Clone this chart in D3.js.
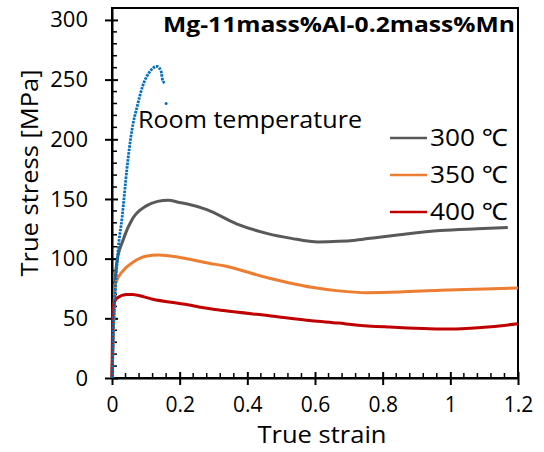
<!DOCTYPE html>
<html>
<head>
<meta charset="utf-8">
<script src="https://cdn.jsdelivr.net/npm/d3@7"></script>
<style>
  body { margin: 0; background: #fff; }
  text { font-family: "Open Sans", "Noto Sans", sans-serif; fill: #000; }
</style>
</head>
<body>
<div id="chart-area"></div>
<script>
// chart values
const strain300 = [0, 0.005, 0.01, 0.015, 0.032, 0.062, 0.10, 0.135, 0.166, 0.2, 0.22, 0.28, 0.37, 0.46, 0.53, 0.61, 0.67, 0.72, 0.79, 0.85, 0.97, 1.08, 1.17]
const stress300 = [0, 50, 85, 98, 115, 134, 144, 148, 149, 147, 146, 141, 129, 121, 117, 114, 114.5, 115.5, 118, 120, 123.5, 125, 126]

const strain350 = [0, 0.005, 0.01, 0.033, 0.062, 0.10, 0.137, 0.2, 0.29, 0.33, 0.46, 0.59, 0.67, 0.75, 0.85, 0.97, 1.1, 1.2]
const stress350 = [0, 50, 79, 90, 97, 102, 103, 101, 96, 94, 84, 76, 73, 71.5, 72, 73.5, 74.5, 75.5]

const strain400 = [0, 0.003, 0.015, 0.044, 0.06, 0.12, 0.21, 0.29, 0.33, 0.47, 0.59, 0.67, 0.72, 0.82, 0.99, 1.12, 1.2]
const stress400 = [0, 59, 67, 70, 70, 66, 62, 58, 56.5, 52, 48, 46, 44.5, 42.7, 41, 43, 45.5]

const strainRT = [0, 0.003, 0.006, 0.01, 0.018, 0.03, 0.044, 0.059, 0.074, 0.09, 0.11, 0.133, 0.145, 0.15, 0.157]
const stressRT = [0, 30, 55, 75, 107, 135, 175, 208, 227, 244, 256, 261, 257, 249, 247]
const strayRT = [[0.16, 230]]

const legendLabels = ["300 ℃", "350 ℃", "400 ℃"]
const seriesColors = ["#595959", "#ED7D31", "#C00000"]
const xTicks = [0, 0.2, 0.4, 0.6, 0.8, 1, 1.2]
const yTicks = [0, 50, 100, 150, 200, 250, 300]

const WIDTH = 544
const HEIGHT = 452
const PLOT = { LEFT: 112, RIGHT: 518, TOP: 8, BOTTOM: 378 }

const svg = d3.select("#chart-area").append("svg")
  .attr("width", WIDTH)
  .attr("height", HEIGHT)

const x = d3.scaleLinear().domain([0, 1.2]).range([PLOT.LEFT, PLOT.RIGHT])
const y = d3.scaleLinear().domain([0, 310]).range([PLOT.BOTTOM, PLOT.TOP])

// frame
svg.append("rect")
  .attr("x", PLOT.LEFT).attr("y", PLOT.TOP)
  .attr("width", PLOT.RIGHT - PLOT.LEFT).attr("height", PLOT.BOTTOM - PLOT.TOP)
  .attr("fill", "none").attr("stroke", "#000").attr("stroke-width", 2)

// minor ticks (inside)
const xMinor = d3.range(0, 31).map(i => i * 0.04).filter((d, i) => i % 5 !== 0)
svg.append("g").selectAll("line").data(xMinor).join("line")
  .attr("x1", d => x(d)).attr("x2", d => x(d))
  .attr("y1", PLOT.BOTTOM).attr("y2", PLOT.BOTTOM - 5)
  .attr("stroke", "#000").attr("stroke-width", 1.5)

const yMinor = d3.range(0, 31).map(i => i * 10).filter(d => d % 50 !== 0)
svg.append("g").selectAll("line").data(yMinor).join("line")
  .attr("x1", PLOT.LEFT).attr("x2", PLOT.LEFT + 5)
  .attr("y1", d => y(d)).attr("y2", d => y(d))
  .attr("stroke", "#000").attr("stroke-width", 1.5)

// X axis
const xAxisCall = d3.axisBottom(x).tickValues(xTicks).tickFormat(d => d).tickSizeInner(7).tickSizeOuter(0).tickPadding(12)
const xAxisGroup = svg.append("g")
  .attr("transform", `translate(0,${PLOT.BOTTOM})`)
  .call(xAxisCall)
xAxisGroup.select(".domain").attr("stroke-width", 2)
xAxisGroup.selectAll(".tick line").attr("y1", -6).attr("stroke-width", 2)
xAxisGroup.selectAll("text").attr("font-size", "21px").attr("font-family", "Open Sans")

// Y axis
const yAxisCall = d3.axisLeft(y).tickValues(yTicks).tickSizeInner(7).tickSizeOuter(0).tickPadding(17)
const yAxisGroup = svg.append("g")
  .attr("transform", `translate(${PLOT.LEFT},0)`)
  .call(yAxisCall)
yAxisGroup.select(".domain").attr("stroke-width", 2)
yAxisGroup.selectAll(".tick line").attr("x1", 6).attr("stroke-width", 2)
yAxisGroup.selectAll("text").attr("font-size", "22px").attr("font-family", "Open Sans")

// axis labels
svg.append("text")
  .attr("x", 322)
  .attr("y", 443)
  .attr("font-size", "23px")
  .attr("text-anchor", "middle")
  .attr("textLength", 129)
  .attr("lengthAdjust", "spacingAndGlyphs")
  .text("True strain")

svg.append("text")
  .attr("transform", "translate(38,173) rotate(-90)")
  .attr("font-size", "24px")
  .attr("text-anchor", "middle")
  .attr("textLength", 207)
  .attr("lengthAdjust", "spacingAndGlyphs")
  .text("True stress [MPa]")

// curves
const line = d3.line().x(d => x(d[0])).y(d => y(d[1])).curve(d3.curveMonotoneX)
const series = [
  d3.zip(strain300, stress300),
  d3.zip(strain350, stress350),
  d3.zip(strain400, stress400)
]
svg.append("g").selectAll("path").data(series).join("path")
  .attr("d", line)
  .attr("fill", "none")
  .attr("stroke", (d, i) => seriesColors[i])
  .attr("stroke-width", 3)
  .attr("stroke-linejoin", "round")

svg.append("path")
  .datum(d3.zip(strainRT, stressRT))
  .attr("d", line)
  .attr("fill", "none")
  .attr("stroke", "#0070C0")
  .attr("stroke-width", 2.8)
  .attr("stroke-dasharray", "2.5,1")

svg.append("g").selectAll("circle").data(strayRT).join("circle")
  .attr("cx", d => x(d[0])).attr("cy", d => y(d[1]))
  .attr("r", 1.5).attr("fill", "#0070C0")

// annotations
svg.append("text")
  .attr("x", 515).attr("y", 32)
  .attr("font-size", "21px")
  .attr("font-weight", "bold")
  .attr("text-anchor", "end")
  .attr("textLength", 352)
  .attr("lengthAdjust", "spacingAndGlyphs")
  .text("Mg-11mass%Al-0.2mass%Mn")

svg.append("text")
  .attr("x", 138).attr("y", 128)
  .attr("font-size", "24px")
  .attr("textLength", 224)
  .attr("lengthAdjust", "spacingAndGlyphs")
  .text("Room temperature")

// legend
const legend = svg.append("g").selectAll("g").data(legendLabels).join("g")
  .attr("transform", (d, i) => `translate(390,${138 + i * 37})`)
legend.append("line")
  .attr("x1", 0).attr("x2", 37)
  .attr("stroke", (d, i) => seriesColors[i])
  .attr("stroke-width", 2.5)
legend.append("text")
  .attr("x", 40).attr("y", 8)
  .attr("font-size", "24px")
  .attr("textLength", 78)
  .attr("lengthAdjust", "spacingAndGlyphs")
  .text(d => d)
</script>
</body>
</html>
